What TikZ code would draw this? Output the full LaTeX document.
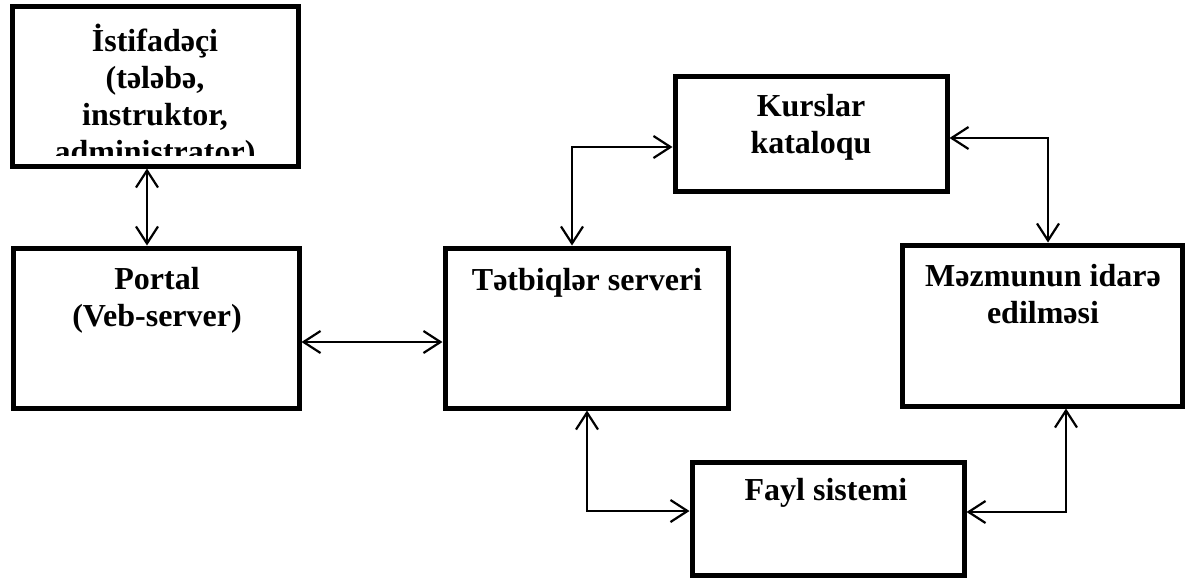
\documentclass[tikz,border=0pt]{standalone}
\usepackage{fontspec}
\setmainfont{Liberation Serif}
\usetikzlibrary{arrows.meta}
\tikzset{
  box/.style={draw=black, line width=5pt, fill=white, inner sep=0pt},
  lbl/.style={font=\bfseries\fontsize{32}{37}\selectfont, align=center, inner sep=0pt, anchor=base},
  arr/.style={line width=2.2pt, {Straight Barb[length=17pt,width=22pt]}-{Straight Barb[length=17pt,width=22pt]}}
}
\begin{document}
\begin{tikzpicture}[x=1pt,y=-1pt]
\useasboundingbox (0,0) rectangle (1185,581);
% boxes
\node[box, minimum width=286pt, minimum height=160pt] (ist) at (155,86) {};
\node[box, minimum width=286pt, minimum height=160pt] (portal) at (156,328) {};
\node[box, minimum width=283pt, minimum height=160pt] (tat) at (586.5,328) {};
\node[box, minimum width=272pt, minimum height=115pt] (kurs) at (811,133.5) {};
\node[box, minimum width=280pt, minimum height=161pt] (mez) at (1042,325.5) {};
\node[box, minimum width=272pt, minimum height=113pt] (fayl) at (828,518.5) {};
% labels
\begin{scope}
\clip (14,8) rectangle (296,155);
\node[lbl] (istT) at (155,162) {İstifadəçi\\(tələbə,\\instruktor,\\administrator)};
\end{scope}
\node[lbl] (portalT) at (157,326) {Portal\\(Veb-server)};
\node[lbl] (tatT) at (587,290) {Tətbiqlər serveri};
\node[lbl] (kursT) at (811,153) {Kurslar\\kataloqu};
\node[lbl] (mezT) at (1043,323) {Məzmunun idarə\\edilməsi};
\node[lbl] (faylT) at (826,500) {Fayl sistemi};
% connector coordinates
\coordinate (a1) at (147,0);
\coordinate (a2) at (0,342);
\coordinate (k1) at (572,147);
\coordinate (k2) at (1048,138);
\coordinate (f1) at (587,511);
\coordinate (f2) at (1066,512);
% connectors
\draw[arr] (a1 |- ist.south) -- (a1 |- portal.north);
\draw[arr] (portal.east |- a2) -- (tat.west |- a2);
\draw[arr] (k1 |- tat.north) -- (k1) -- (kurs.west |- k1);
\draw[arr] (kurs.east |- k2) -- (k2) -- (k2 |- mez.north);
\draw[arr] (f1 |- tat.south) -- (f1) -- (fayl.west |- f1);
\draw[arr] (f2 |- mez.south) -- (f2) -- (fayl.east |- f2);
\end{tikzpicture}
\end{document}
